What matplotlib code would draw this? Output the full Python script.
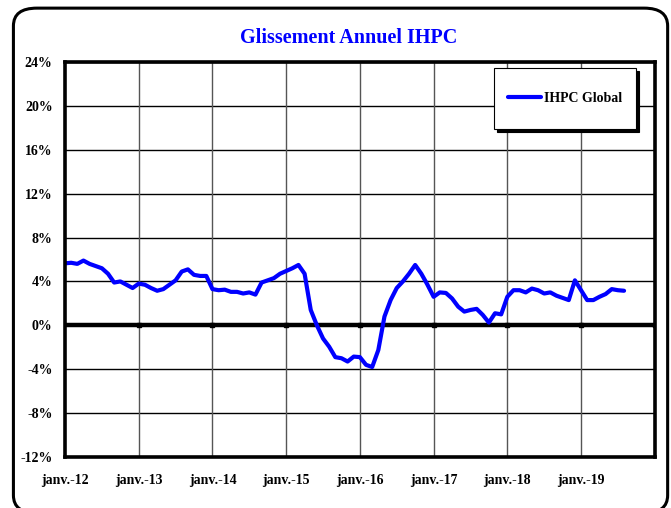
import numpy as np
import matplotlib
matplotlib.use('Agg')
import matplotlib.pyplot as plt
from matplotlib.patches import FancyBboxPatch
from matplotlib.lines import Line2D
from matplotlib.legend_handler import HandlerLine2D

# Monthly year-on-year change of the IHPC, janv.-12 .. août-19 (%)
ihpc_global = [
    5.65, 5.7, 5.6, 5.9, 5.6, 5.4, 5.2, 4.7, 3.9, 4.0, 3.7, 3.4,   # 2012
    3.8, 3.7, 3.4, 3.15, 3.3, 3.7, 4.1, 4.9, 5.1, 4.6, 4.5, 4.5,   # 2013
    3.3, 3.2, 3.25, 3.05, 3.05, 2.9, 3.0, 2.8, 3.9, 4.1, 4.3, 4.7, # 2014
    4.95, 5.2, 5.5, 4.7, 1.4, 0.0, -1.2, -1.95, -2.9, -3.0, -3.3, -2.85, # 2015
    -2.9, -3.6, -3.8, -2.25, 0.8, 2.3, 3.4, 4.0, 4.7, 5.5, 4.7, 3.7,     # 2016
    2.6, 3.0, 2.95, 2.45, 1.7, 1.25, 1.4, 1.5, 0.95, 0.25, 1.1, 1.0,     # 2017
    2.6, 3.2, 3.2, 3.0, 3.35, 3.2, 2.9, 3.0, 2.7, 2.5, 2.3, 4.1,         # 2018
    3.2, 2.3, 2.3, 2.6, 2.85, 3.3, 3.2, 3.15,                           # 2019
]
year_labels = ['janv.-12', 'janv.-13', 'janv.-14', 'janv.-15',
               'janv.-16', 'janv.-17', 'janv.-18', 'janv.-19']
y_ticks = [-12, -8, -4, 0, 4, 8, 12, 16, 20, 24]
title = 'Glissement Annuel IHPC'
series_name = 'IHPC Global'

serif = ['Liberation Serif', 'DejaVu Serif']


class LoweredLine(HandlerLine2D):
    '''Legend line handle moved down so it sits level with the label.'''
    def __init__(self, shift, **kw):
        super().__init__(**kw)
        self.shift = shift

    def create_artists(self, legend, orig_handle, xdescent, ydescent,
                       width, height, fontsize, trans):
        artists = super().create_artists(legend, orig_handle, xdescent,
                                         ydescent, width, height,
                                         fontsize, trans)
        for a in artists:
            a.set_ydata(np.asarray(a.get_ydata()) - self.shift)
        return artists


def main():
    fig = plt.figure(figsize=(6.71, 5.08), dpi=100)

    # rounded outer frame of the chart area (bottom runs off the image)
    frame = FancyBboxPatch((0.02, -0.01), 0.975, 0.994,
                           boxstyle='round,pad=0,rounding_size=0.035',
                           transform=fig.transFigure, fill=False,
                           edgecolor='black', linewidth=2.2)
    fig.patches.append(frame)

    ax = fig.add_axes([0.0969, 0.1004, 0.8789, 0.7776])
    months = np.arange(len(ihpc_global))
    n_months = 12 * (len(year_labels))

    # grid
    for v in y_ticks:
        ax.axhline(v, color='black', lw=1.0, zorder=1)
    for k in range(1, len(year_labels) + 1):
        ax.axvline(12 * k, color='#555555', lw=1.0, zorder=1)
    ax.axhline(0, color='black', lw=3.2, zorder=2)
    year_pos = 12 * np.arange(1, len(year_labels) + 1)
    ax.plot(year_pos, np.zeros(len(year_pos)), 's', color='black',
            ms=3.2, zorder=3)

    line, = ax.plot(months, ihpc_global, color='#0000ff', lw=3.0,
                    solid_joinstyle='round', solid_capstyle='round',
                    label=series_name, zorder=4)

    ax.set_xlim(0, n_months)
    ax.set_ylim(-12, 24)
    ax.set_yticks(y_ticks)
    ax.set_yticklabels(['%d%%' % v for v in y_ticks])
    ax.set_xticks(12 * np.arange(len(year_labels)))
    ax.set_xticklabels(year_labels)
    ax.tick_params(axis='x', length=0, pad=12)
    ax.tick_params(axis='y', length=0, pad=9)
    for lab in ax.get_xticklabels() + ax.get_yticklabels():
        lab.set_family(serif)
        lab.set_fontweight('bold')
        lab.set_fontsize(10)

    for side in ['left', 'bottom', 'right', 'top']:
        ax.spines[side].set_linewidth(2.6)
        ax.spines[side].set_zorder(5)

    leg = ax.legend(loc='upper right', bbox_to_anchor=(0.968, 0.985),
                    borderaxespad=0.0,
                    frameon=True, fancybox=False, borderpad=1.0,
                    handlelength=2.4, handleheight=3.3, handletextpad=0.2,
                    handler_map={Line2D: LoweredLine(3.8)},
                    prop={'family': serif, 'weight': 'bold', 'size': 10},
                    shadow={'color': 'black', 'alpha': 1.0,
                            'ox': 2.5, 'oy': -2.5})
    leg.get_frame().set_edgecolor('black')
    leg.get_frame().set_linewidth(0.8)
    leg.get_frame().set_alpha(1.0)

    fig.text(0.52, 0.925, title, ha='center', va='center',
             color='#0000ff', fontsize=14.5, fontweight='bold',
             family=serif)

    fig.savefig('out.png', dpi=100)


if __name__ == '__main__':
    main()
